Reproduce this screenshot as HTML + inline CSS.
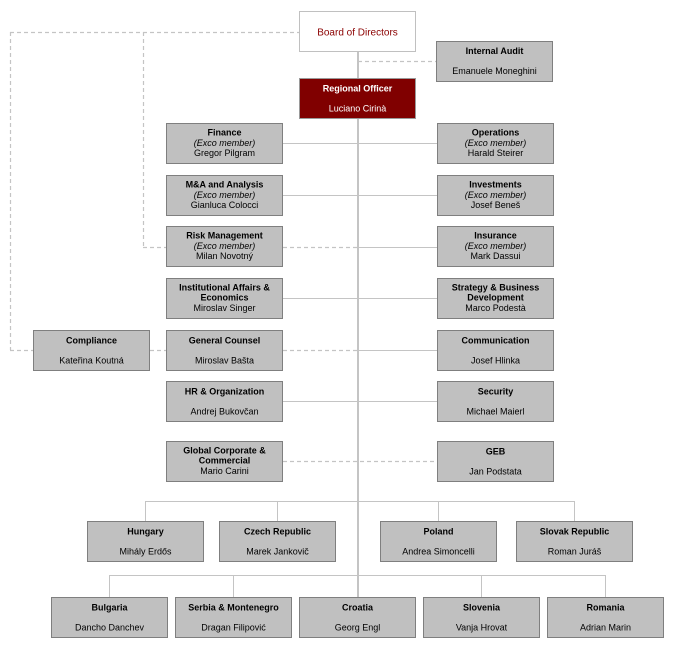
<!DOCTYPE html>
<html><head><meta charset="utf-8">
<style>
html,body{margin:0;padding:0;background:#fff;}
svg{display:block;}
text{font-family:"Liberation Sans",Arial,sans-serif;font-size:9px;fill:#000;}
.t{font-weight:bold;}
.i{font-style:italic;}
.b{fill:#c0c0c0;stroke:#7f7f7f;stroke-width:1;}
.d{stroke:#c4c4c4;stroke-width:1.2;stroke-dasharray:4 3;fill:none;}
.s{fill:#c4c4c4;}
</style></head>
<body>
<svg width="675" height="649" viewBox="0 0 675 649" xmlns="http://www.w3.org/2000/svg">
<!-- dashed connectors -->
<line class="d" x1="10" y1="32.5" x2="299" y2="32.5"/>
<line class="d" x1="10.5" y1="32" x2="10.5" y2="350"/>
<line class="d" x1="143.5" y1="32" x2="143.5" y2="247"/>
<line class="d" x1="143" y1="247.5" x2="166" y2="247.5"/>
<line class="d" x1="283" y1="247.5" x2="358" y2="247.5"/>
<line class="d" x1="10" y1="350.5" x2="33" y2="350.5"/>
<line class="d" x1="150" y1="350.5" x2="166" y2="350.5"/>
<line class="d" x1="283" y1="350.5" x2="358" y2="350.5"/>
<line class="d" x1="283" y1="461.5" x2="437" y2="461.5"/>
<line class="d" x1="358" y1="61.5" x2="436" y2="61.5"/>
<!-- solid connectors -->
<rect class="s" x="357" y="52" width="2" height="545"/>
<rect class="s" x="283" y="143" width="154" height="1"/>
<rect class="s" x="283" y="195" width="154" height="1"/>
<rect class="s" x="358" y="247" width="79" height="1"/>
<rect class="s" x="283" y="298" width="154" height="1"/>
<rect class="s" x="358" y="350" width="79" height="1"/>
<rect class="s" x="283" y="401" width="154" height="1"/>
<!-- country bus 1 -->
<rect class="s" x="145" y="501" width="430" height="1"/>
<rect class="s" x="145" y="501" width="1" height="20"/>
<rect class="s" x="277" y="501" width="1" height="20"/>
<rect class="s" x="438" y="501" width="1" height="20"/>
<rect class="s" x="574" y="501" width="1" height="20"/>
<!-- country bus 2 -->
<rect class="s" x="109" y="575" width="497" height="1"/>
<rect class="s" x="109" y="575" width="1" height="22"/>
<rect class="s" x="233" y="575" width="1" height="22"/>
<rect class="s" x="481" y="575" width="1" height="22"/>
<rect class="s" x="605" y="575" width="1" height="22"/>

<!-- Board -->
<rect x="299.5" y="11.5" width="116" height="40" fill="#fff" stroke="#c0c0c0"/>
<text x="357.5" y="35.5" text-anchor="middle" style="font-size:10px;fill:#8b0000">Board of Directors</text>
<!-- Regional Officer -->
<rect x="299.5" y="78.5" width="116" height="40" fill="#800000" stroke="#9a9a9a"/>
<text class="t" x="357.5" y="91.5" text-anchor="middle" style="fill:#fff">Regional Officer</text>
<text class="t" x="357.5" y="111.5" text-anchor="middle" style="fill:#fff;font-weight:normal">Luciano Cirinà</text>
<!-- Internal Audit -->
<rect class="b" x="436.5" y="41.5" width="116" height="40"/>
<text class="t" x="494.5" y="54" text-anchor="middle">Internal Audit</text>
<text x="494.5" y="74" text-anchor="middle">Emanuele Moneghini</text>

<!-- Left column -->
<rect class="b" x="166.5" y="123.5" width="116" height="40"/>
<text class="t" x="224.5" y="135.5" text-anchor="middle">Finance</text>
<text class="i" x="224.5" y="146" text-anchor="middle">(Exco member)</text>
<text x="224.5" y="156" text-anchor="middle">Gregor  Pilgram</text>

<rect class="b" x="166.5" y="175.5" width="116" height="40"/>
<text class="t" x="224.5" y="187.5" text-anchor="middle">M&amp;A  and Analysis</text>
<text class="i" x="224.5" y="198" text-anchor="middle">(Exco member)</text>
<text x="224.5" y="208" text-anchor="middle">Gianluca Colocci</text>

<rect class="b" x="166.5" y="226.5" width="116" height="40"/>
<text class="t" x="224.5" y="238.5" text-anchor="middle">Risk Management</text>
<text class="i" x="224.5" y="249" text-anchor="middle">(Exco member)</text>
<text x="224.5" y="259" text-anchor="middle">Milan  Novotný</text>

<rect class="b" x="166.5" y="278.5" width="116" height="40"/>
<text class="t" x="224.5" y="290.5" text-anchor="middle">Institutional Affairs &amp;</text>
<text class="t" x="224.5" y="300.5" text-anchor="middle">Economics</text>
<text x="224.5" y="311" text-anchor="middle">Miroslav Singer</text>

<rect class="b" x="166.5" y="330.5" width="116" height="40"/>
<text class="t" x="224.5" y="343.5" text-anchor="middle">General Counsel</text>
<text x="224.5" y="363.5" text-anchor="middle">Miroslav Bašta</text>

<rect class="b" x="166.5" y="381.5" width="116" height="40"/>
<text class="t" x="224.5" y="394.5" text-anchor="middle">HR &amp; Organization</text>
<text x="224.5" y="414.5" text-anchor="middle">Andrej Bukovčan</text>

<rect class="b" x="166.5" y="441.5" width="116" height="40"/>
<text class="t" x="224.5" y="453.5" text-anchor="middle">Global Corporate &amp;</text>
<text class="t" x="224.5" y="463.5" text-anchor="middle">Commercial</text>
<text x="224.5" y="474" text-anchor="middle">Mario  Carini</text>

<!-- Compliance -->
<rect class="b" x="33.5" y="330.5" width="116" height="40"/>
<text class="t" x="91.5" y="343.5" text-anchor="middle">Compliance</text>
<text x="91.5" y="363.5" text-anchor="middle">Kateřina Koutná</text>

<!-- Right column -->
<rect class="b" x="437.5" y="123.5" width="116" height="40"/>
<text class="t" x="495.5" y="135.5" text-anchor="middle">Operations</text>
<text class="i" x="495.5" y="146" text-anchor="middle">(Exco member)</text>
<text x="495.5" y="156" text-anchor="middle">Harald Steirer</text>

<rect class="b" x="437.5" y="175.5" width="116" height="40"/>
<text class="t" x="495.5" y="187.5" text-anchor="middle">Investments</text>
<text class="i" x="495.5" y="198" text-anchor="middle">(Exco member)</text>
<text x="495.5" y="208" text-anchor="middle">Josef Beneš</text>

<rect class="b" x="437.5" y="226.5" width="116" height="40"/>
<text class="t" x="495.5" y="238.5" text-anchor="middle">Insurance</text>
<text class="i" x="495.5" y="249" text-anchor="middle">(Exco member)</text>
<text x="495.5" y="259" text-anchor="middle">Mark Dassui</text>

<rect class="b" x="437.5" y="278.5" width="116" height="40"/>
<text class="t" x="495.5" y="290.5" text-anchor="middle">Strategy &amp; Business</text>
<text class="t" x="495.5" y="300.5" text-anchor="middle">Development</text>
<text x="495.5" y="311" text-anchor="middle">Marco  Podestà</text>

<rect class="b" x="437.5" y="330.5" width="116" height="40"/>
<text class="t" x="495.5" y="343.5" text-anchor="middle">Communication</text>
<text x="495.5" y="363.5" text-anchor="middle">Josef Hlinka</text>

<rect class="b" x="437.5" y="381.5" width="116" height="40"/>
<text class="t" x="495.5" y="394.5" text-anchor="middle">Security</text>
<text x="495.5" y="414.5" text-anchor="middle">Michael Maierl</text>

<rect class="b" x="437.5" y="441.5" width="116" height="40"/>
<text class="t" x="495.5" y="454.5" text-anchor="middle">GEB</text>
<text x="495.5" y="474.5" text-anchor="middle">Jan Podstata</text>

<!-- Country row 1 -->
<rect class="b" x="87.5" y="521.5" width="116" height="40"/>
<text class="t" x="145.5" y="534.5" text-anchor="middle">Hungary</text>
<text x="145.5" y="554.5" text-anchor="middle">Mihály Erdős</text>

<rect class="b" x="219.5" y="521.5" width="116" height="40"/>
<text class="t" x="277.5" y="534.5" text-anchor="middle">Czech Republic</text>
<text x="277.5" y="554.5" text-anchor="middle">Marek  Jankovič</text>

<rect class="b" x="380.5" y="521.5" width="116" height="40"/>
<text class="t" x="438.5" y="534.5" text-anchor="middle">Poland</text>
<text x="438.5" y="554.5" text-anchor="middle">Andrea  Simoncelli</text>

<rect class="b" x="516.5" y="521.5" width="116" height="40"/>
<text class="t" x="574.5" y="534.5" text-anchor="middle">Slovak Republic</text>
<text x="574.5" y="554.5" text-anchor="middle">Roman Juráš</text>

<!-- Country row 2 -->
<rect class="b" x="51.5" y="597.5" width="116" height="40"/>
<text class="t" x="109.5" y="610.5" text-anchor="middle">Bulgaria</text>
<text x="109.5" y="630.5" text-anchor="middle">Dancho Danchev</text>

<rect class="b" x="175.5" y="597.5" width="116" height="40"/>
<text class="t" x="233.5" y="610.5" text-anchor="middle">Serbia &amp; Montenegro</text>
<text x="233.5" y="630.5" text-anchor="middle">Dragan Filipović</text>

<rect class="b" x="299.5" y="597.5" width="116" height="40"/>
<text class="t" x="357.5" y="610.5" text-anchor="middle">Croatia</text>
<text x="357.5" y="630.5" text-anchor="middle">Georg  Engl</text>

<rect class="b" x="423.5" y="597.5" width="116" height="40"/>
<text class="t" x="481.5" y="610.5" text-anchor="middle">Slovenia</text>
<text x="481.5" y="630.5" text-anchor="middle">Vanja Hrovat</text>

<rect class="b" x="547.5" y="597.5" width="116" height="40"/>
<text class="t" x="605.5" y="610.5" text-anchor="middle">Romania</text>
<text x="605.5" y="630.5" text-anchor="middle">Adrian Marin</text>
</svg>
</body></html>
